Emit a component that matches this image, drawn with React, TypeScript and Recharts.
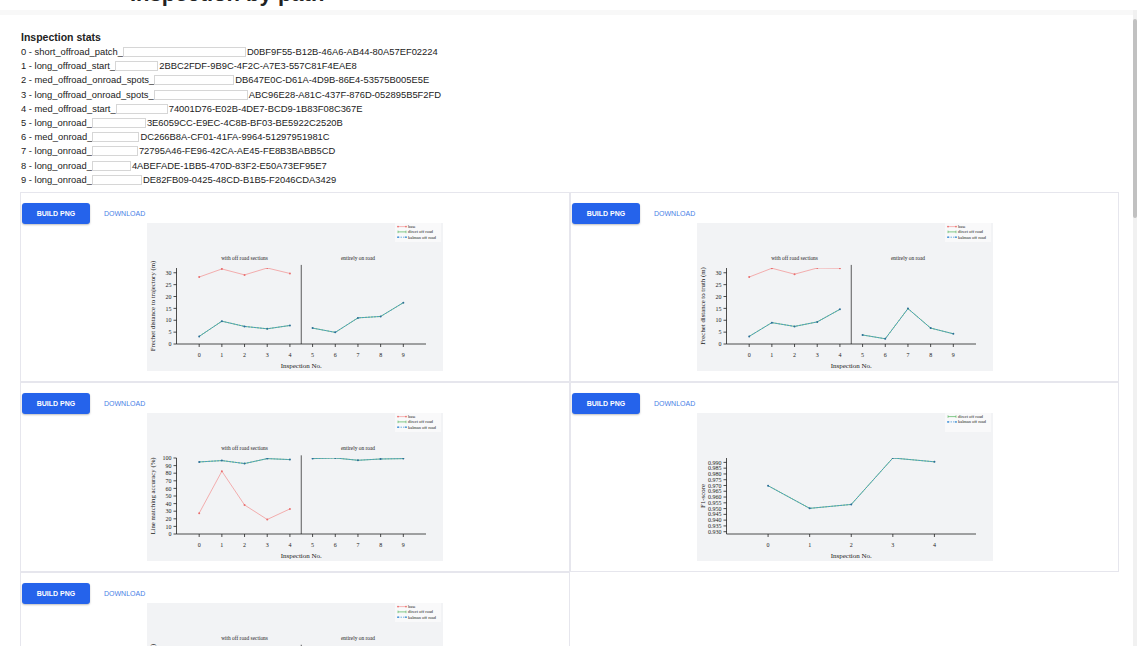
import { LineChart, Line, XAxis, YAxis, ReferenceLine, ReferenceDot, Legend } from "recharts";

const SERIF = '"Liberation Serif", "DejaVu Serif", serif';
const SANS = '"Liberation Sans", Arial, sans-serif';

const inspectionNames = [
    "short_offroad_patch",
    "long_offroad_start",
    "med_offroad_onroad_spots",
    "long_offroad_onroad_spots",
    "med_offroad_start",
    "long_onroad",
    "med_onroad",
    "long_onroad",
    "long_onroad",
    "long_onroad",
];

const inspectionIds = [
    "D0BF9F55-B12B-46A6-AB44-80A57EF02224",
    "2BBC2FDF-9B9C-4F2C-A7E3-557C81F4EAE8",
    "DB647E0C-D61A-4D9B-86E4-53575B005E5E",
    "ABC96E28-A81C-437F-876D-052895B5F2FD",
    "74001D76-E02B-4DE7-BCD9-1B83F08C367E",
    "3E6059CC-E9EC-4C8B-BF03-BE5922C2520B",
    "DC266B8A-CF01-41FA-9964-51297951981C",
    "72795A46-FE96-42CA-AE45-FE8B3BABB5CD",
    "4ABEFADE-1BB5-470D-83F2-E50A73EF95E7",
    "DE82FB09-0425-48CD-B1B5-F2046CDA3429",
];

// width of the name field next to each row
const nameFieldWidths = [123, 43, 80, 94, 52, 54, 47, 46, 39, 50];

const inspectionNo = [0, 1, 2, 3, 4, 5, 6, 7, 8, 9];
const offRoadNo = [0, 1, 2, 3, 4];

// Frechet distance to trajectory (m)
const trajBase = [28.2, 31.6, 29.1, 32.0, 29.7];
const trajDirect = [3.2, 9.6, 7.4, 6.4, 7.8, 6.7, 4.9, 11.0, 11.6, 17.4];
const trajKalman = [3.2, 9.6, 7.4, 6.4, 7.8, 6.7, 4.9, 11.0, 11.6, 17.4];

// Frechet distance to truth (m)
const truthBase = [28.2, 31.9, 29.4, 32.0, 31.9];
const truthDirect = [3.2, 9.0, 7.4, 9.3, 14.6, 3.8, 2.2, 14.9, 6.7, 4.3];
const truthKalman = [3.2, 9.0, 7.4, 9.3, 14.6, 3.8, 2.2, 14.9, 6.7, 4.3];

// Line matching accuracy (%)
const matchBase = [27.4, 82.6, 38.2, 19.1, 33.0];
const matchDirect = [94.8, 96.6, 92.7, 99.2, 97.9, 99.2, 100, 97.0, 98.7, 99.2];
const matchKalman = [94.8, 96.6, 92.7, 99.2, 97.9, 99.2, 100, 97.0, 98.7, 99.2];

// F1-score (off road inspections only)
const f1Direct = [0.9698, 0.9502, 0.9536, 0.9938, 0.9905];
const f1Kalman = [0.9698, 0.9502, 0.9536, 0.9938, 0.9905];

// Hausdorff distance to truth (m)
const hausBase = [2.9, 3.05, 2.7, 3.0, 2.8];
const hausDirect = [0.4, 0.9, 0.8, 0.7, 0.9, 0.6, 0.5, 1.1, 1.2, 1.6];
const hausKalman = [0.4, 0.9, 0.8, 0.7, 0.9, 0.6, 0.5, 1.1, 1.2, 1.6];

const range = (a: number, b: number, step: number) => {
    const out: number[] = [];
    for (let v = a; v <= b + 1e-9; v += step) out.push(Math.round(v * 1000) / 1000);
    return out;
};

type Row = Record<string, number | undefined>;

// split direct / kalman into off-road (0-4) and on-road (5-9) segments
function buildRows(xs: number[], base: number[] | null, direct: number[], kalman: number[]): Row[] {
    return xs.map((x, i) => ({
        x,
        base: base && i < base.length ? base[i] : undefined,
        directA: i < 5 ? direct[i] : undefined,
        directB: i >= 5 ? direct[i] : undefined,
        kalmanA: i < 5 ? kalman[i] : undefined,
        kalmanB: i >= 5 ? kalman[i] : undefined,
    }));
}

const BASE_COLOR = "#f39a9a";
const BASE_DOT = "#ea6f6f";
const DIRECT_COLOR = "#52b35a";
const KALMAN_COLOR = "#3d8fd6";
const KALMAN_DOT = "#2c6f96";

type KeyItem = { name: string; kind: "dot" | "bar" | "dash" };

const KEY_ALL: KeyItem[] = [
    { name: "base", kind: "dot" },
    { name: "direct off road", kind: "bar" },
    { name: "kalman off road", kind: "dash" },
];
const KEY_F1: KeyItem[] = KEY_ALL.slice(1);

function KeyBox({ items }: { items: KeyItem[] }) {
    return (
        <svg width={46} height={19} style={{ display: "block" }}>
            <rect width={46} height={19} fill="#f9f9fa" />
            {items.map((it, i) => {
                const y = 3.6 + i * 5.3;
                const color = it.kind === "dot" ? BASE_COLOR : it.kind === "bar" ? DIRECT_COLOR : KALMAN_COLOR;
                return (
                    <g key={it.name}>
                        <line
                            x1={3}
                            x2={11}
                            y1={y}
                            y2={y}
                            stroke={color}
                            strokeWidth={0.7}
                            strokeDasharray={it.kind === "dash" ? "1.5 1" : undefined}
                        />
                        {it.kind === "bar" ? (
                            <>
                                <line x1={3} x2={3} y1={y - 1.3} y2={y + 1.3} stroke={color} strokeWidth={0.6} />
                                <line x1={11} x2={11} y1={y - 1.3} y2={y + 1.3} stroke={color} strokeWidth={0.6} />
                            </>
                        ) : (
                            <>
                                <circle cx={3} cy={y} r={0.9} fill={it.kind === "dot" ? BASE_DOT : KALMAN_COLOR} />
                                <circle cx={11} cy={y} r={0.9} fill={it.kind === "dot" ? BASE_DOT : KALMAN_COLOR} />
                            </>
                        )}
                        <text x={13} y={y} dominantBaseline="central" fontSize={4.4} fontFamily={SERIF} fill="#222">
                            {it.name}
                        </text>
                    </g>
                );
            })}
        </svg>
    );
}

interface PanelSpec {
    yTitle: string;
    rows: Row[];
    xDomain: [number, number];
    xTicks: number[];
    yDomain: [number, number];
    yTicks: number[];
    yFormat?: (v: number) => string;
    hasBase: boolean;
    facets: boolean;
    sepTop?: number;
    keys: KeyItem[];
}

const AXIS = "#222";

function Panel({ spec }: { spec: PanelSpec }) {
    const tick = { fontSize: 6, fill: AXIS, stroke: "none", fontFamily: SERIF };
    const [, yTop] = spec.yDomain;
    return (
        <div style={{ width: 296, height: 148, background: "#f2f3f5", position: "relative" }}>
            <LineChart width={296} height={148} data={spec.rows} margin={{ top: 45, right: 17, bottom: 0, left: 0 }}>
                <XAxis
                    type="number"
                    dataKey="x"
                    domain={spec.xDomain}
                    ticks={spec.xTicks}
                    allowDataOverflow
                    interval={0}
                    height={27}
                    tick={tick}
                    tickSize={3}
                    tickMargin={5.5}
                    axisLine={{ stroke: AXIS, strokeWidth: 0.8 }}
                    tickLine={{ stroke: AXIS, strokeWidth: 0.8 }}
                    label={{
                        content: (p: any) => {
                            const vb = p.viewBox;
                            return (
                                <text
                                    x={vb.x + vb.width / 2}
                                    y={vb.y + 23.6}
                                    textAnchor="middle"
                                    fontSize={7}
                                    fontFamily={SERIF}
                                    fill={AXIS}
                                >
                                    Inspection No.
                                </text>
                            );
                        },
                    }}
                />
                <YAxis
                    type="number"
                    domain={spec.yDomain}
                    ticks={spec.yTicks}
                    allowDataOverflow
                    interval={0}
                    width={29.5}
                    tick={tick}
                    tickSize={3}
                    tickMargin={2}
                    tickFormatter={spec.yFormat}
                    axisLine={{ stroke: AXIS, strokeWidth: 0.8 }}
                    tickLine={{ stroke: AXIS, strokeWidth: 0.8 }}
                    label={{
                        content: (p: any) => {
                            const vb = p.viewBox;
                            const cx = vb.x + 5.5;
                            const cy = vb.y + vb.height / 2;
                            return (
                                <text
                                    x={cx}
                                    y={cy}
                                    transform={`rotate(-90 ${cx} ${cy})`}
                                    textAnchor="middle"
                                    dominantBaseline="central"
                                    fontSize={6.8}
                                    fontFamily={SERIF}
                                    fill={AXIS}
                                >
                                    {spec.yTitle}
                                </text>
                            );
                        },
                    }}
                />
                {spec.facets && (
                    <ReferenceLine
                        segment={[
                            { x: 4.5, y: spec.yDomain[0] },
                            { x: 4.5, y: spec.sepTop ?? yTop },
                        ]}
                        ifOverflow="visible"
                        stroke="#333"
                        strokeWidth={0.8}
                    />
                )}
                {spec.facets && (
                    <ReferenceDot
                        x={2}
                        y={yTop}
                        r={0}
                        ifOverflow="visible"
                        stroke="none"
                        label={{ value: "with off road sections", position: "top", offset: 8, fontSize: 5.4, fontFamily: SERIF, fill: AXIS }}
                    />
                )}
                {spec.facets && (
                    <ReferenceDot
                        x={7}
                        y={yTop}
                        r={0}
                        ifOverflow="visible"
                        stroke="none"
                        label={{ value: "entirely on road", position: "top", offset: 8, fontSize: 5.4, fontFamily: SERIF, fill: AXIS }}
                    />
                )}
                {spec.hasBase && (
                    <Line
                        dataKey="base"
                        stroke={BASE_COLOR}
                        strokeWidth={0.8}
                        dot={{ r: 1, fill: BASE_DOT, stroke: "none" }}
                        isAnimationActive={false}
                        connectNulls={false}
                    />
                )}
                {["directA", "directB"].map((k) => (
                    <Line
                        key={k}
                        dataKey={k}
                        stroke={DIRECT_COLOR}
                        strokeWidth={0.8}
                        dot={false}
                        isAnimationActive={false}
                        connectNulls={false}
                    />
                ))}
                {["kalmanA", "kalmanB"].map((k) => (
                    <Line
                        key={k}
                        dataKey={k}
                        stroke={KALMAN_COLOR}
                        strokeWidth={0.8}
                        strokeDasharray="2 1"
                        dot={{ r: 1, fill: KALMAN_DOT, stroke: "none" }}
                        isAnimationActive={false}
                        connectNulls={false}
                    />
                ))}
                <Legend
                    layout="horizontal"
                    verticalAlign="middle"
                    align="center"
                    content={() => <KeyBox items={spec.keys} />}
                    wrapperStyle={{ top: 0, right: 2, left: "auto", width: "auto", height: "auto", lineHeight: 0 }}
                />
            </LineChart>
        </div>
    );
}

const fullX: [number, number] = [-1, 10];

const panels: PanelSpec[] = [
    {
        yTitle: "Frechet distance to trajectory (m)",
        rows: buildRows(inspectionNo, trajBase, trajDirect, trajKalman),
        xDomain: fullX,
        xTicks: inspectionNo,
        yDomain: [0, 32],
        yTicks: range(0, 30, 5),
        hasBase: true,
        facets: true,
        sepTop: 33.3,
        keys: KEY_ALL,
    },
    {
        yTitle: "Frechet distance to truth (m)",
        rows: buildRows(inspectionNo, truthBase, truthDirect, truthKalman),
        xDomain: fullX,
        xTicks: inspectionNo,
        yDomain: [0, 32],
        yTicks: range(0, 30, 5),
        hasBase: true,
        facets: true,
        sepTop: 33.3,
        keys: KEY_ALL,
    },
    {
        yTitle: "Line matching accuracy (%)",
        rows: buildRows(inspectionNo, matchBase, matchDirect, matchKalman),
        xDomain: fullX,
        xTicks: inspectionNo,
        yDomain: [0, 100],
        yTicks: range(0, 100, 10),
        hasBase: true,
        facets: true,
        sepTop: 103.5,
        keys: KEY_ALL,
    },
    {
        yTitle: "F1-score",
        rows: buildRows(offRoadNo, null, f1Direct, f1Kalman),
        xDomain: [-1, 5],
        xTicks: offRoadNo,
        yDomain: [0.928, 0.9938],
        yTicks: range(0.93, 0.99, 0.005),
        yFormat: (v: number) => v.toFixed(3),
        hasBase: false,
        facets: false,
        keys: KEY_F1,
    },
    {
        yTitle: "Hausdorff distance to truth (m)",
        rows: buildRows(inspectionNo, hausBase, hausDirect, hausKalman),
        xDomain: fullX,
        xTicks: inspectionNo,
        yDomain: [0, 3.05],
        yTicks: range(0, 3, 0.5),
        yFormat: (v: number) => v.toFixed(1),
        hasBase: true,
        facets: true,
        sepTop: 3.18,
        keys: KEY_ALL,
    },
];

const CARD_LEFTS = [20, 570];
const CARD_WIDTHS = [550, 549];
const CARD_TOPS = [192, 382, 572];

function Card({ index, spec }: { index: number; spec: PanelSpec }) {
    const col = index % 2;
    const row = Math.floor(index / 2);
    return (
        <div
            style={{
                position: "absolute",
                left: CARD_LEFTS[col],
                top: CARD_TOPS[row],
                width: CARD_WIDTHS[col],
                height: 190,
                border: "1px solid #e6e6ed",
                boxSizing: "border-box",
                background: "#fff",
            }}
        >
            <div
                style={{
                    position: "absolute",
                    left: 1,
                    top: 10,
                    width: 68,
                    height: 21,
                    borderRadius: 3,
                    background: "#2563eb",
                    color: "#fff",
                    fontFamily: SANS,
                    fontWeight: 700,
                    fontSize: 7,
                    lineHeight: "21px",
                    textAlign: "center",
                    boxShadow: "0 1px 2px rgba(0,0,0,0.25)",
                }}
            >
                BUILD PNG
            </div>
            <div
                style={{
                    position: "absolute",
                    left: 83,
                    top: 10,
                    height: 21,
                    lineHeight: "21px",
                    color: "#4a7fe6",
                    fontFamily: SANS,
                    fontSize: 7,
                }}
            >
                DOWNLOAD
            </div>
            <div style={{ position: "absolute", top: 30, left: "50%", marginLeft: -148 }}>
                <Panel spec={spec} />
            </div>
        </div>
    );
}

export default function App() {
    return (
        <div
            style={{
                position: "absolute",
                left: 0,
                top: 0,
                width: 1137,
                height: 646,
                overflow: "hidden",
                background: "#fff",
                fontFamily: SANS,
            }}
        >
            <div
                style={{
                    position: "absolute",
                    left: 130,
                    top: -19,
                    fontSize: 22,
                    fontWeight: 700,
                    color: "#222",
                    whiteSpace: "nowrap",
                }}
            >
                Inspection by path
            </div>
            <div style={{ position: "absolute", left: 0, top: 10, width: 1133, height: 5, background: "#f8f8f8" }} />

            <div style={{ position: "absolute", left: 21, top: 30, color: "#222", whiteSpace: "nowrap" }}>
                <div style={{ fontWeight: 700, fontSize: 10.5, lineHeight: "15px" }}>Inspection stats</div>
                {inspectionNames.map((name, i) => (
                    <div key={i} style={{ fontSize: 9.4, lineHeight: "14.2px", height: 14.2, display: "flex", alignItems: "center" }}>
                        <span>{`${i} - ${name}_`}</span>
                        <span
                            style={{
                                display: "inline-block",
                                width: nameFieldWidths[i],
                                height: 10,
                                border: "1px solid #d6d6d6",
                                boxSizing: "border-box",
                                background: "#fff",
                                marginRight: 1,
                            }}
                        />
                        <span>{inspectionIds[i]}</span>
                    </div>
                ))}
            </div>

            {panels.map((spec, i) => (
                <Card key={i} index={i} spec={spec} />
            ))}

            <div style={{ position: "absolute", left: 1133, top: 10, width: 4, height: 636, background: "#f1f1f1" }} />
            <div style={{ position: "absolute", left: 1133, top: 19, width: 4, height: 199, background: "#c1c1c1", borderRadius: 2 }} />
        </div>
    );
}
